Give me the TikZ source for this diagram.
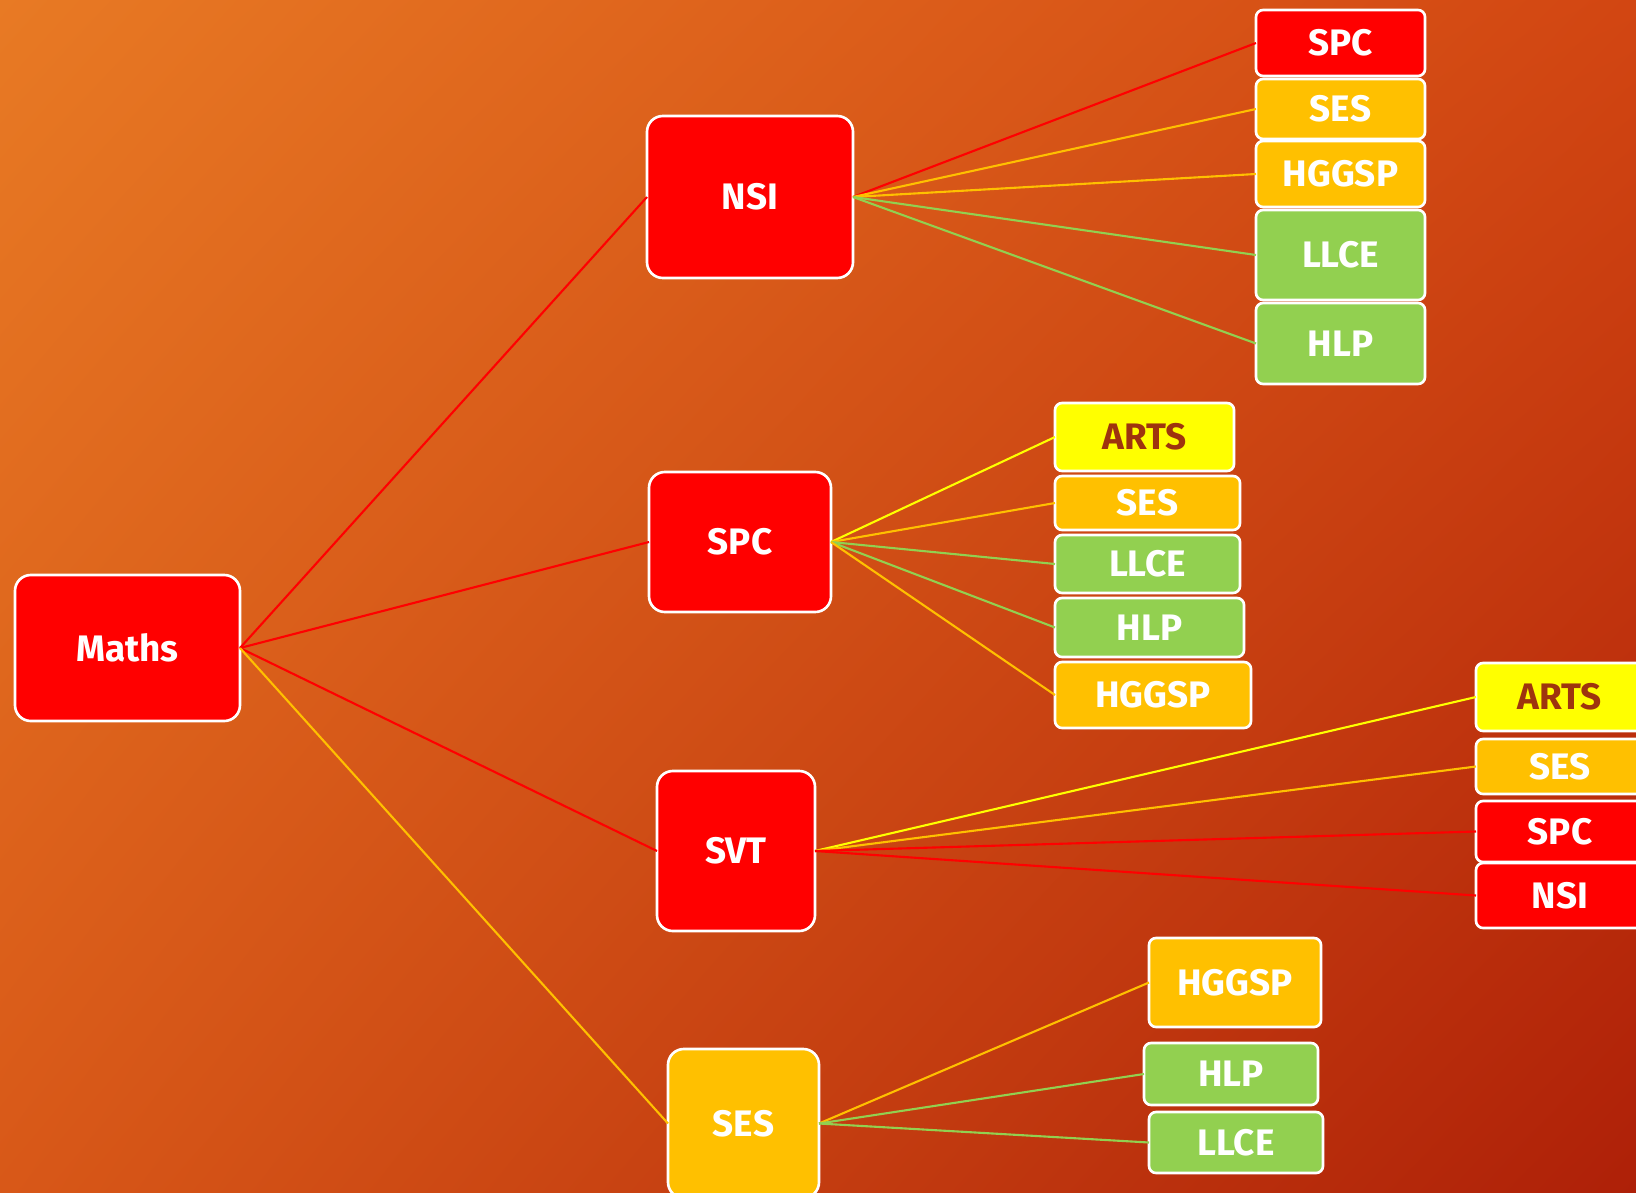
\documentclass[tikz,border=0pt]{standalone}
\usepackage{fontspec}
\setmainfont{Fira Sans}
\usetikzlibrary{shadings}
\definecolor{bgTL}{RGB}{232,122,36}
\definecolor{bgTR}{RGB}{210,70,18}
\definecolor{bgBL}{RGB}{216,88,24}
\definecolor{bgBR}{RGB}{174,32,8}
\definecolor{cRed}{RGB}{255,0,0}
\definecolor{cGold}{RGB}{255,192,0}
\definecolor{cGreen}{RGB}{146,208,80}
\definecolor{cYellow}{RGB}{255,255,0}
\definecolor{cArtsTxt}{RGB}{158,52,14}
\tikzset{
  box/.style={draw=white, line width=1.5pt, rounded corners=4pt, inner sep=0pt, outer sep=0pt,
    font=\fontsize{21}{24}\selectfont\bfseries, text=white},
  bigbox/.style={box, rounded corners=9pt},
  redbox/.style={fill=cRed},
  goldbox/.style={fill=cGold},
  greenbox/.style={fill=cGreen},
  artsbox/.style={fill=cYellow, text=cArtsTxt},
  link/.style={line width=1.2pt},
}
\begin{document}
\begin{tikzpicture}[x=0.02cm, y=-0.02cm]
\useasboundingbox (0,0) rectangle (1636,1193);
\clip (0,0) rectangle (1636,1193);
\shade[upper left=bgTL, upper right=bgTR, lower left=bgBL, lower right=bgBR] (0,0) rectangle (1636,1193);
% main nodes
\node[bigbox, redbox, minimum width=225*0.02cm, minimum height=146*0.02cm] (maths) at (127.5,648) {Maths};
\node[bigbox, redbox, minimum width=206*0.02cm, minimum height=162*0.02cm] (nsi) at (750,197) {NSI};
\node[bigbox, redbox, minimum width=182*0.02cm, minimum height=140*0.02cm] (spc) at (740,542) {SPC};
\node[bigbox, redbox, minimum width=158*0.02cm, minimum height=160*0.02cm] (svt) at (736,851) {SVT};
\node[bigbox, goldbox, minimum width=151*0.02cm, minimum height=149*0.02cm] (ses) at (743.5,1123.5) {SES};
% NSI children
\node[box, redbox, minimum width=169*0.02cm, minimum height=66*0.02cm] (nSPC) at (1340.5,43) {SPC};
\node[box, goldbox, minimum width=169*0.02cm, minimum height=60*0.02cm] (nSES) at (1340.5,109) {SES};
\node[box, goldbox, minimum width=169*0.02cm, minimum height=66*0.02cm] (nHGGSP) at (1340.5,174) {HGGSP};
\node[box, greenbox, minimum width=169*0.02cm, minimum height=90*0.02cm] (nLLCE) at (1340.5,255) {LLCE};
\node[box, greenbox, minimum width=169*0.02cm, minimum height=81*0.02cm] (nHLP) at (1340.5,343.5) {HLP};
% SPC children
\node[box, artsbox, minimum width=179*0.02cm, minimum height=68*0.02cm] (sARTS) at (1144.5,437) {ARTS};
\node[box, goldbox, minimum width=185*0.02cm, minimum height=54*0.02cm] (sSES) at (1147.5,503) {SES};
\node[box, greenbox, minimum width=185*0.02cm, minimum height=58*0.02cm] (sLLCE) at (1147.5,564) {LLCE};
\node[box, greenbox, minimum width=189*0.02cm, minimum height=59*0.02cm] (sHLP) at (1149.5,627.5) {HLP};
\node[box, goldbox, minimum width=196*0.02cm, minimum height=66*0.02cm] (sHGGSP) at (1153,695) {HGGSP};
% SVT children
\node[box, artsbox, minimum width=168*0.02cm, minimum height=68*0.02cm] (vARTS) at (1560,697) {ARTS};
\node[box, goldbox, minimum width=168*0.02cm, minimum height=55*0.02cm] (vSES) at (1560,766.5) {SES};
\node[box, redbox, minimum width=168*0.02cm, minimum height=61*0.02cm] (vSPC) at (1560,831.5) {SPC};
\node[box, redbox, minimum width=168*0.02cm, minimum height=65*0.02cm] (vNSI) at (1560,895.5) {NSI};
% SES children
\node[box, goldbox, minimum width=172*0.02cm, minimum height=89*0.02cm] (eHGGSP) at (1235,982.5) {HGGSP};
\node[box, greenbox, minimum width=174*0.02cm, minimum height=62*0.02cm] (eHLP) at (1231,1074) {HLP};
\node[box, greenbox, minimum width=174*0.02cm, minimum height=61*0.02cm] (eLLCE) at (1236,1142.5) {LLCE};
% connectors
\draw[link, cRed] (maths.east) -- (nsi.west);
\draw[link, cRed] (maths.east) -- (spc.west);
\draw[link, cRed] (maths.east) -- (svt.west);
\draw[link, cGold] (maths.east) -- (ses.west);
\draw[link, cRed] (nsi.east) -- (nSPC.west);
\draw[link, cGold] (nsi.east) -- (nSES.west);
\draw[link, cGold] (nsi.east) -- (nHGGSP.west);
\draw[link, cGreen] (nsi.east) -- (nLLCE.west);
\draw[link, cGreen] (nsi.east) -- (nHLP.west);
\draw[link, cYellow] (spc.east) -- (sARTS.west);
\draw[link, cGold] (spc.east) -- (sSES.west);
\draw[link, cGreen] (spc.east) -- (sLLCE.west);
\draw[link, cGreen] (spc.east) -- (sHLP.west);
\draw[link, cGold] (spc.east) -- (sHGGSP.west);
\draw[link, cYellow] (svt.east) -- (vARTS.west);
\draw[link, cGold] (svt.east) -- (vSES.west);
\draw[link, cRed] (svt.east) -- (vSPC.west);
\draw[link, cRed] (svt.east) -- (vNSI.west);
\draw[link, cGold] (ses.east) -- (eHGGSP.west);
\draw[link, cGreen] (ses.east) -- (eHLP.west);
\draw[link, cGreen] (ses.east) -- (eLLCE.west);
\end{tikzpicture}
\end{document}
